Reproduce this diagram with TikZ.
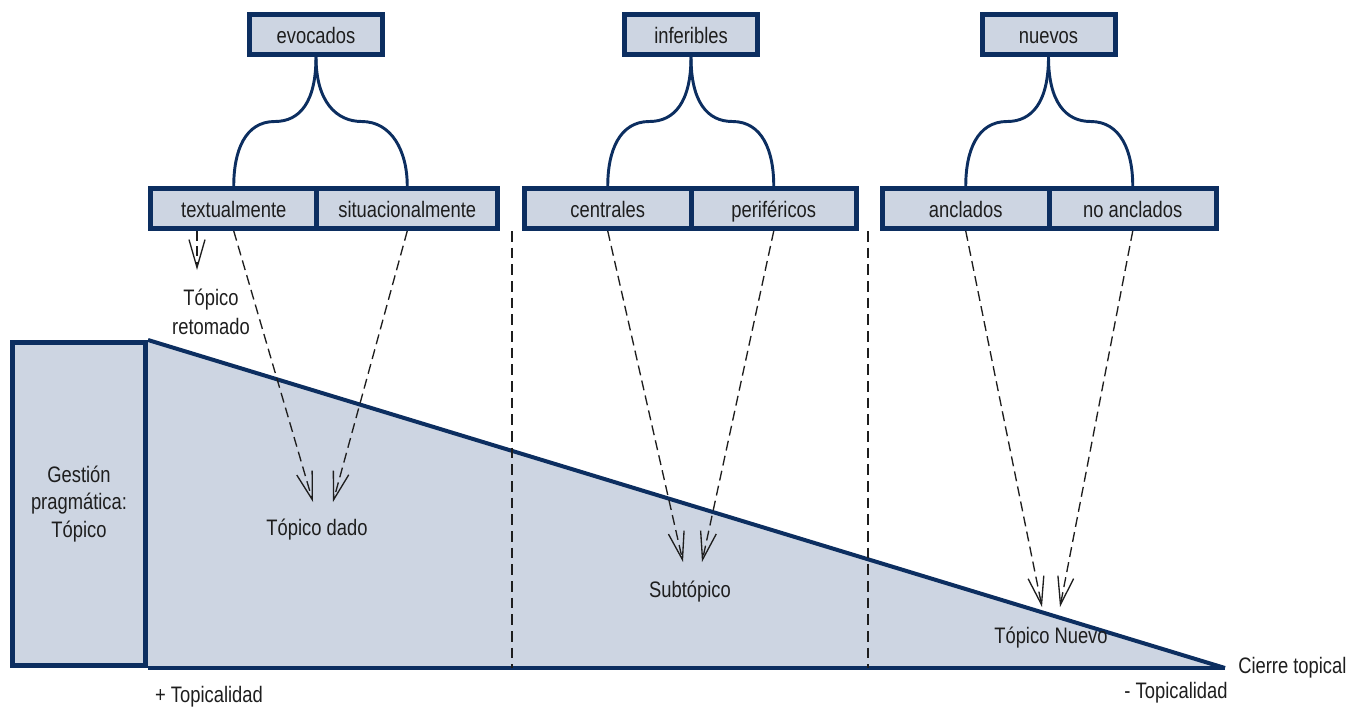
\documentclass[tikz,border=0pt]{standalone}
\usepackage{fontspec}
\setmainfont[FakeStretch=0.82]{Liberation Sans}
\usetikzlibrary{arrows.meta,calc}
\definecolor{navy}{RGB}{12,46,96}
\definecolor{paleblue}{RGB}{205,213,226}
\definecolor{ink}{RGB}{30,30,30}

\begin{document}
\begin{tikzpicture}[x=0.75pt,y=-0.75pt,
  box/.style={draw=navy,fill=paleblue,line width=3.75pt,minimum height=30pt,inner sep=0pt,text=ink,text height=16pt,text depth=2pt,font=\fontsize{16.8}{19}\selectfont},
  brace/.style={navy,line width=2.2pt},
  guide/.style={ink,line width=0.9pt,dash pattern=on 8pt off 4.5pt},
  pointer/.style={ink,line width=1pt,dash pattern=on 7.5pt off 4pt,-{Straight Barb[length=21pt,width=12pt,line width=1pt]}},
  lbl/.style={text=ink,align=center,inner sep=0pt,font=\fontsize{16.8}{21.5}\selectfont}]
  \useasboundingbox (0,0) rectangle (1364,710);
  \fill[paleblue] (148,340) -- (1225,668) -- (148,668) -- cycle;
  \coordinate (apex) at (1225,668);
  \node[box,minimum width=99.75pt,minimum height=242.25pt,text height=,text depth=,align=center,font=\fontsize{16.8}{20.5}\selectfont] (gp) at (79,504) {Gestión\\pragmática:\\Tópico};
  \draw[navy,line width=3pt] (gp.north east) -- (apex);
  \draw[navy,line width=3pt] (gp.south east) -- (apex);
  \foreach \n/\x/\t in {ev/316/evocados, inf/691/inferibles, nue/1048.5/nuevos}
    \node[box,minimum width=99.75pt] (\n) at (\x,34.5) {\t};
  \foreach \n/\x/\w/\t in {tex/233.75/124.9/textualmente, sit/407.25/135.4/situacionalmente,
                           cen/607.75/124.9/centrales, per/773.75/124.1/periféricos,
                           anc/965.75/124.9/anclados, noa/1132.75/125.6/no anclados}
    \node[box,minimum width=\w pt] (\n) at (\x,208.5) {\t};
  \foreach \t/\l/\r in {ev/tex/sit, inf/cen/per, nue/anc/noa} {
    \path ($(\t.south)!.5!(\l.north)$) coordinate (ml) ($(\t.south)!.5!(\r.north)$) coordinate (mr);
    \draw[brace] (\t.south) .. controls +(0,45) and +(25,0) .. (ml) .. controls +(-30,0) and +(0,-35) .. (\l.north);
    \draw[brace] (\t.south) .. controls +(0,45) and +(-25,0) .. (mr) .. controls +(30,0) and +(0,-35) .. (\r.north);
  }
  \coordinate (g1) at (512,668);
  \coordinate (g2) at (868,668);
  \draw[guide] (sit.south east -| g1) -- (g1);
  \draw[guide] (per.south east -| g2) -- (g2);
  \node[lbl] (ret) at (211,312) {Tópico\\retomado};
  \node[lbl] (dado) at (317,530) {Tópico dado};
  \node[lbl] (sub) at (690,592) {Subtópico};
  \node[lbl] (nuevo) at (1051,638) {Tópico Nuevo};
  \node[lbl,anchor=west] (cierre) at (1238,668) {Cierre topical};
  \node[lbl] (mas) at (209,697) {+ Topicalidad};
  \node[lbl] (menos) at (1176,693) {- Topicalidad};
  \coordinate (rt) at (197,270);
  \coordinate (d1) at (313,502);
  \coordinate (d2) at (333,502);
  \coordinate (s1) at (683,562);
  \coordinate (s2) at (702,562);
  \coordinate (n1) at (1042,607);
  \coordinate (n2) at (1060,607);
  \draw[pointer] (tex.south -| rt) -- (rt);
  \draw[pointer] (tex.south) -- (d1);
  \draw[pointer] (sit.south) -- (d2);
  \draw[pointer] (cen.south) -- (s1);
  \draw[pointer] (per.south) -- (s2);
  \draw[pointer] (anc.south) -- (n1);
  \draw[pointer] (noa.south) -- (n2);
\end{tikzpicture}
\end{document}
